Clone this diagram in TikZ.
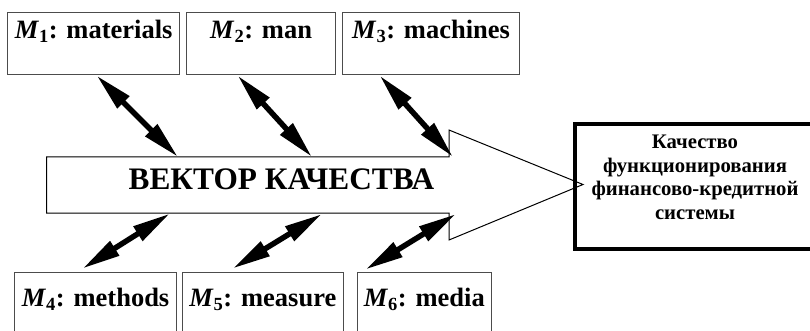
\documentclass[tikz,border=0pt]{standalone}
\usepackage{fontspec}
\setmainfont{Liberation Serif}
\usetikzlibrary{arrows.meta}
\begin{document}
\begin{tikzpicture}[x=1pt,y=-1pt,
  factor/.style={draw=black!70, line width=1.2pt, inner xsep=0pt, inner ysep=0pt,
    anchor=north west, font=\fontsize{26.5}{30}\selectfont\bfseries},
  topfactor/.style={factor, text height=26pt, text depth=36.3pt},
  botfactor/.style={factor, text height=34pt, text depth=40pt},
  link/.style={line width=5.5pt,
    {Triangle[length=38pt,width=16pt]}-{Triangle[length=38pt,width=16pt]}},
  vectorbody/.style={draw=black, line width=1pt, fill=white},
]
\useasboundingbox (0,0) rectangle (810,331);

% the six factors M1..M6
\node[topfactor, minimum width=172pt] (m1) at (7,12)   {\textit{M}\textsubscript{1}: materials};
\node[topfactor, minimum width=149pt] (m2) at (186,12) {\textit{M}\textsubscript{2}: man};
\node[topfactor, minimum width=177pt] (m3) at (342,12) {\textit{M}\textsubscript{3}: machines};
\node[botfactor, minimum width=162pt] (m4) at (14,272)    {\textit{M}\textsubscript{4}: methods};
\node[botfactor, minimum width=161.5pt] (m5) at (181.5,272) {\textit{M}\textsubscript{5}: measure};
\node[botfactor, minimum width=134.5pt] (m6) at (356.5,272) {\textit{M}\textsubscript{6}: media};

% the quality vector: a wide block arrow
\draw[vectorbody] (46.5,157) -- (449,157) -- (449,130) -- (583,184.5)
  -- (449,240) -- (449,213) -- (46.5,213) -- cycle;
\node[anchor=base, font=\fontsize{31.3}{36}\selectfont\bfseries] (vector) at (281.5,189) {ВЕКТОР КАЧЕСТВА};

% points where the factors meet the vector
\coordinate (b1) at (178,157);
\coordinate (b2) at (312,157);
\coordinate (b3) at (453,157);
\coordinate (b4) at (170,213.5);
\coordinate (b5) at (322,214);
\coordinate (b6) at (456,214);

% result box
\node[draw=black, line width=4pt, anchor=north west, minimum width=239pt, minimum height=124.5pt] (quality) at (573,122) {};
\node[align=center, font=\fontsize{20.7}{23.5}\selectfont\bfseries] (qtext) at (695,177.5)
  {Качество\\функционирования\\финансово-кредитной\\системы};

% two-way links between factors and the vector
\draw[link] ([xshift=3pt]m1.south) -- (b1);
\draw[link] ([xshift=-23.5pt]m2.south) -- (b2);
\draw[link] ([xshift=-51.5pt]m3.south) -- (b3);
\draw[link] ([xshift=-13pt,yshift=3.5pt]m4.north) -- (b4);
\draw[link] ([xshift=-30pt,yshift=3.5pt]m5.north) -- (b5);
\draw[link] ([xshift=-58.7pt,yshift=2.5pt]m6.north) -- (b6);
\end{tikzpicture}
\end{document}
